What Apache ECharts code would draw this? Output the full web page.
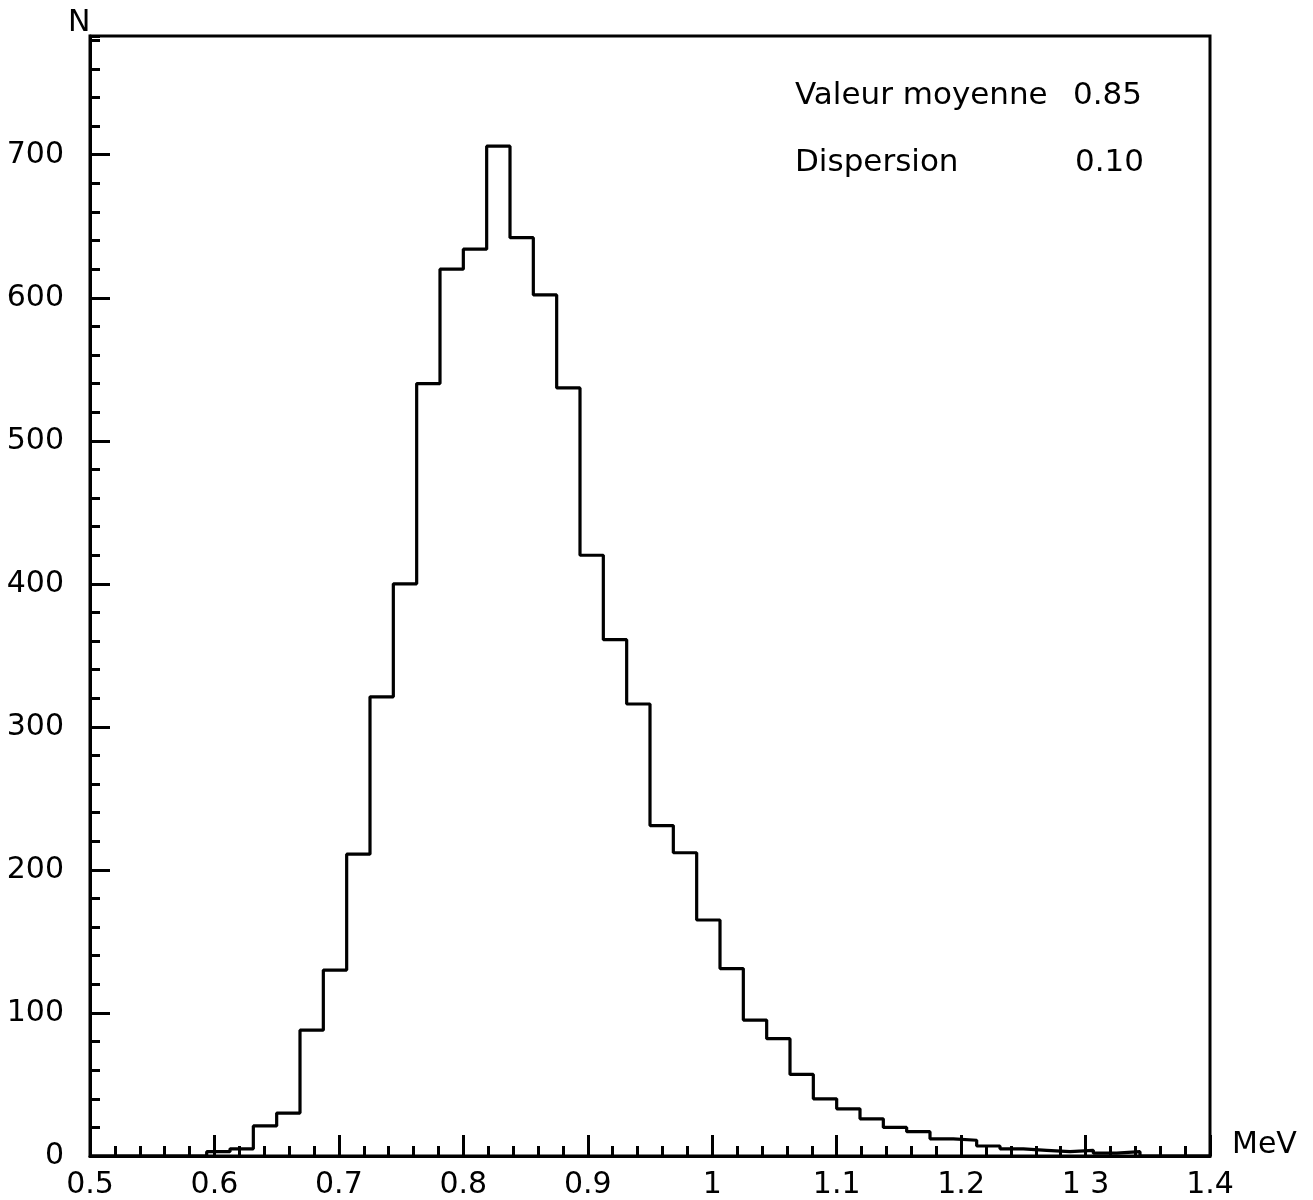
<!DOCTYPE html>
<html><head><meta charset="utf-8">
<script src="https://cdn.jsdelivr.net/npm/echarts@6/dist/echarts.min.js"></script>
<style>html,body{margin:0;padding:0;background:#fff}#c{width:1313px;height:1200px}</style>
</head><body><div id="c"></div>
<script>
// ---- data ----
const binStart = 0.5;
const binWidth = 0.01875;   // 48 bins over [0.5, 1.4]
const counts = [0,0,0,0,0,
  3,5,21,30,88,130,211,321,400,540,
  620,634,706,642,602,537,420,361,316,231,
  212,165,131,95,82,57,40,33,26,20,
  17,12,11,7,5,4,3,4,2,3,
  0,0,0];
const xTickLabels = ['0.5','0.6','0.7','0.8','0.9','1','1.1','1.2','1 3','1.4'];
const yTickValues = [0,100,200,300,400,500,600,700];
const statNames = ['Valeur moyenne','Dispersion'];
const statValues = ['0.85','0.10'];
const xName = 'MeV';
const yName = 'N';

// ---- build step points from bins ----
const pts = counts.map((c,k)=>[binStart + k*binWidth, c]);
pts.push([binStart + counts.length*binWidth, 0]);

const FONT = '"DejaVu Sans", sans-serif';
const chart = echarts.init(document.getElementById('c'), null, {renderer:'canvas'});
const tickLine = {color:'#000', width:3};
chart.setOption({
  animation:false,
  backgroundColor:'#fff',
  grid:{left:90, top:36, width:1120, height:1123, show:true, borderColor:'#000', borderWidth:3, backgroundColor:'transparent'},
  xAxis:{
    type:'value', min:0.5, max:1.4, interval:0.1,
    axisLine:{show:true, onZero:false, lineStyle:tickLine},
    axisTick:{show:true, inside:true, length:21, lineStyle:tickLine},
    minorTick:{show:true, splitNumber:5, length:10, lineStyle:tickLine},
    splitLine:{show:false}, minorSplitLine:{show:false},
    axisLabel:{color:'#000', fontSize:30, fontFamily:FONT, margin:14,
      formatter:(v)=>{const i=Math.round((v-0.5)/0.1); return xTickLabels[i]!==undefined?xTickLabels[i]:'';}}
  },
  yAxis:[{
    type:'value', min:0, max:783, interval:100,
    axisLine:{show:true, onZero:false, lineStyle:tickLine},
    axisTick:{show:true, inside:true, length:20, lineStyle:tickLine},
    splitLine:{show:false},
    axisLabel:{color:'#000', fontSize:30, fontFamily:FONT, margin:26, showMaxLabel:false,
      formatter:(v)=> yTickValues.indexOf(v)>=0 ? String(v) : ''}
  },{
    type:'value', min:0, max:783, interval:20, position:'left',
    axisLine:{show:false},
    axisTick:{show:true, inside:true, length:10, lineStyle:tickLine},
    splitLine:{show:false},
    axisLabel:{show:false}
  }],
  series:[{
    type:'line', step:'end', data:pts, showSymbol:false, symbol:'none',
    lineStyle:{color:'#000', width:3.2}, xAxisIndex:0, yAxisIndex:0
  }],
  graphic:[
    {type:'text', x:68, y:8, style:{text:yName, font:'30px '+FONT, fill:'#000', align:'left', verticalAlign:'top'}},
    {type:'text', x:1232, y:1130, style:{text:xName, font:'30px '+FONT, fill:'#000', align:'left', verticalAlign:'top'}},
    {type:'text', x:795, y:80, style:{text:statNames[0], font:'31px '+FONT, fill:'#000', align:'left', verticalAlign:'top'}},
    {type:'text', x:1142, y:80, style:{text:statValues[0], font:'31px '+FONT, fill:'#000', align:'right', verticalAlign:'top'}},
    {type:'text', x:795, y:147, style:{text:statNames[1], font:'31px '+FONT, fill:'#000', align:'left', verticalAlign:'top'}},
    {type:'text', x:1144, y:147, style:{text:statValues[1], font:'31px '+FONT, fill:'#000', align:'right', verticalAlign:'top'}}
  ]
});
</script></body></html>
